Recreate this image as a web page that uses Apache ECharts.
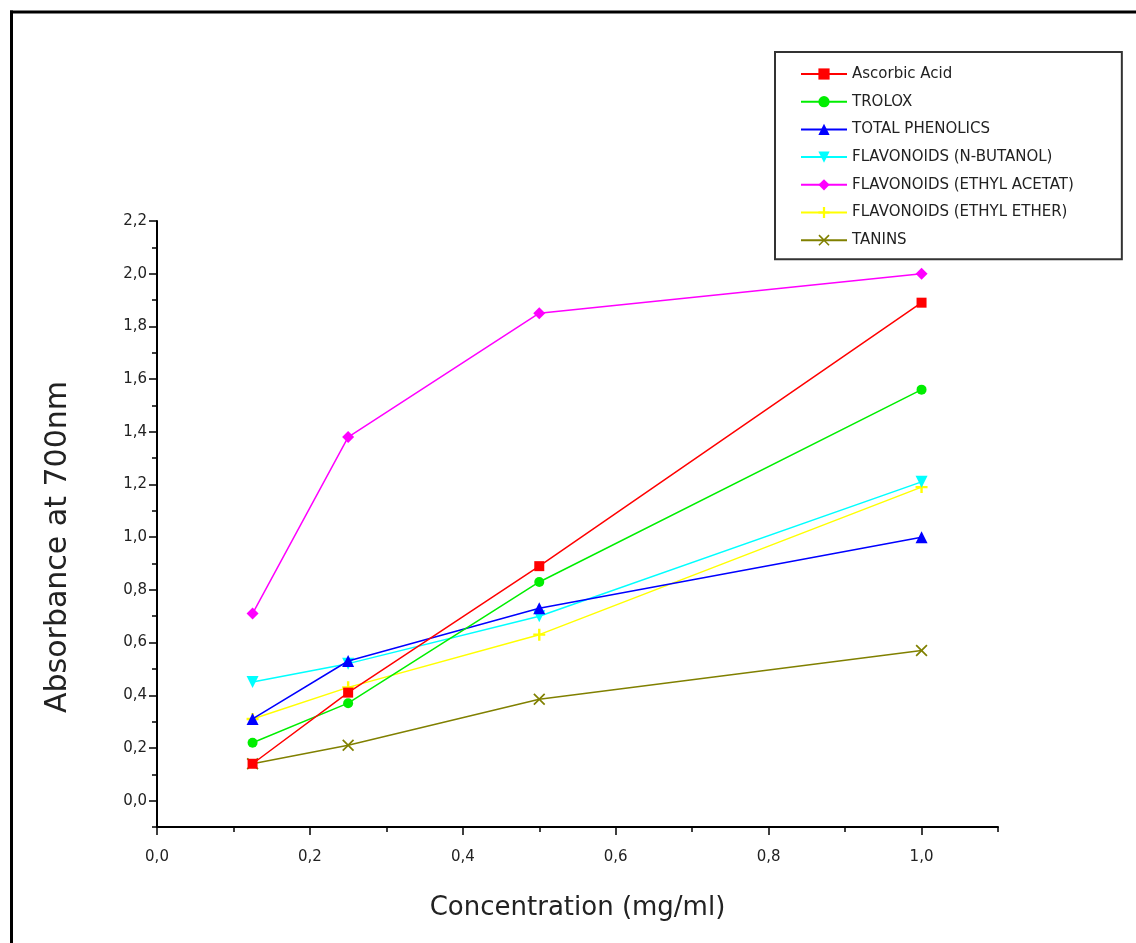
<!DOCTYPE html>
<html>
<head>
<meta charset="utf-8">
<script src="https://cdn.jsdelivr.net/npm/echarts@6/dist/echarts.min.js"></script>
<style>html,body{margin:0;padding:0;background:#fff}#c{width:1136px;height:943px}</style>
</head>
<body>
<div id="c"></div>
<script>
var concentration = [0.125, 0.25, 0.5, 1.0];
var ascorbicAcid = [0.14, 0.41, 0.89, 1.89];
var trolox = [0.22, 0.37, 0.83, 1.56];
var totalPhenolics = [0.31, 0.53, 0.73, 1.00];
var flavButanol = [0.45, 0.52, 0.70, 1.21];
var flavEthylAcetat = [0.71, 1.38, 1.85, 2.00];
var flavEthylEther = [0.31, 0.43, 0.63, 1.19];
var tanins = [0.14, 0.21, 0.385, 0.57];

var seriesNames = ['Ascorbic Acid', 'TROLOX', 'TOTAL PHENOLICS', 'FLAVONOIDS (N-BUTANOL)', 'FLAVONOIDS (ETHYL ACETAT)', 'FLAVONOIDS (ETHYL ETHER)', 'TANINS'];
var seriesValues = [ascorbicAcid, trolox, totalPhenolics, flavButanol, flavEthylAcetat, flavEthylEther, tanins];

var yMajorTicks = [0, 0.2, 0.4, 0.6, 0.8, 1.0, 1.2, 1.4, 1.6, 1.8, 2.0, 2.2];
var yMinorTicks = [-0.1, 0.1, 0.3, 0.5, 0.7, 0.9, 1.1, 1.3, 1.5, 1.7, 1.9, 2.1];
var xMajorTicks = [0, 0.2, 0.4, 0.6, 0.8, 1.0];
var xMinorTicks = [0.1, 0.3, 0.5, 0.7, 0.9, 1.1];

var colors = ['#ff0000', '#00ee00', '#0000ff', '#00ffff', '#ff00ff', '#ffff00', '#808000'];
var symbols = ['rect', 'circle', 'triangle', 'triangle', 'diamond',
  'path://M4,0H6V4H10V6H6V10H4V6H0V4H4Z',
  'path://M0,1L1,0L5,4L9,0L10,1L6,5L10,9L9,10L5,6L1,10L0,9L4,5Z'];
var symbolRot = [0, 0, 0, 180, 0, 0, 0];
var symbolSizes = [10, 10, 12, 12, 12, 12, 12];

function fmt(v) { return (Math.round(v * 10) / 10).toFixed(1).replace('.', ','); }

var series = seriesNames.map(function (n, i) {
  return {
    name: n, type: 'line', xAxisIndex: 0, yAxisIndex: 0,
    data: concentration.map(function (x, j) { return [x, seriesValues[i][j]]; }),
    symbol: symbols[i], symbolSize: symbolSizes[i], symbolRotate: symbolRot[i],
    lineStyle: { color: colors[i], width: 1.5 },
    itemStyle: { color: colors[i] },
    z: 10 - i
  };
});

var txt = '#222';
var font = 'DejaVu Sans';
var chart = echarts.init(document.getElementById('c'));
chart.setOption({
  animation: false,
  backgroundColor: '#fff',
  grid: { left: 157, right: 138, top: 221, bottom: 116 },
  legend: {
    orient: 'vertical', left: 775, top: 52,
    padding: [14.5, 48, 11.5, 25],
    itemGap: 12.7, itemWidth: 46, itemHeight: 14,
    borderColor: '#333', borderWidth: 2,
    textStyle: { color: txt, fontSize: 15, fontFamily: font },
    data: seriesNames
  },
  xAxis: [{
    type: 'value', min: 0, max: 1.1,
    name: 'Concentration (mg/ml)', nameLocation: 'middle', nameGap: 68,
    nameTextStyle: { color: txt, fontSize: 26, fontFamily: font },
    axisLine: { onZero: false, lineStyle: { color: '#000', width: 2 } },
    axisTick: { customValues: xMajorTicks, length: 8, lineStyle: { color: '#000', width: 1.5 } },
    axisLabel: { customValues: xMajorTicks, formatter: fmt, color: txt, fontSize: 15, fontFamily: font, margin: 23 },
    splitLine: { show: false }
  }, {
    type: 'value', min: 0, max: 1.1, position: 'bottom',
    axisLine: { show: false, onZero: false },
    axisTick: { customValues: xMinorTicks, length: 5, lineStyle: { color: '#000', width: 1.5 } },
    axisLabel: { show: false }, splitLine: { show: false }
  }],
  yAxis: [{
    type: 'value', min: -0.1, max: 2.2,
    name: 'Absorbance at 700nm', nameLocation: 'middle', nameGap: 84,
    nameTextStyle: { color: txt, fontSize: 30, fontFamily: font, padding: [0, 46, 0, 0] },
    axisLine: { show: true, onZero: false, lineStyle: { color: '#000', width: 2 } },
    axisTick: { show: true, customValues: yMajorTicks, length: 8, lineStyle: { color: '#000', width: 1.5 } },
    axisLabel: { customValues: yMajorTicks, formatter: fmt, color: txt, fontSize: 15, fontFamily: font, margin: 10 },
    splitLine: { show: false }
  }, {
    type: 'value', min: -0.1, max: 2.2, position: 'left',
    axisLine: { show: false, onZero: false },
    axisTick: { show: true, customValues: yMinorTicks, length: 5, lineStyle: { color: '#000', width: 1.5 } },
    axisLabel: { show: false }, splitLine: { show: false }
  }],
  graphic: [
    { type: 'line', shape: { x1: 10, y1: 12, x2: 1136, y2: 12 }, style: { stroke: '#000', lineWidth: 3 } },
    { type: 'line', shape: { x1: 11.5, y1: 10.5, x2: 11.5, y2: 943 }, style: { stroke: '#000', lineWidth: 3 } }
  ],
  series: series
});
</script>
</body>
</html>
